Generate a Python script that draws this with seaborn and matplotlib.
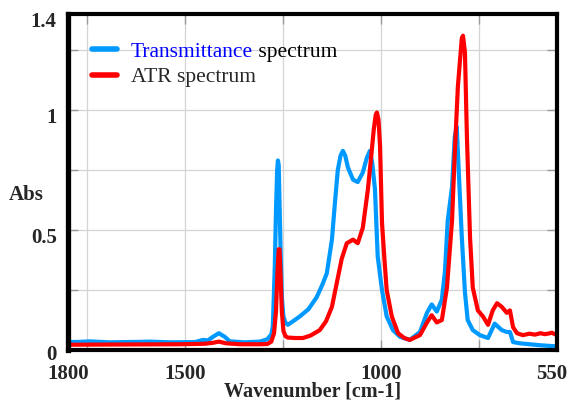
import matplotlib
matplotlib.use("Agg")
from matplotlib import pyplot as plt
from matplotlib import transforms
from matplotlib.ticker import FixedLocator
import seaborn as sns
import pandas as pd

# wavenumber [cm-1] / absorbance
trans_wn = [1800, 1769, 1744, 1693, 1616, 1590, 1539, 1475, 1455, 1442, 1429, 1414,
            1399, 1386, 1348, 1309, 1290, 1280, 1276, 1271, 1268, 1265, 1263, 1261,
            1259, 1256, 1253, 1249, 1244, 1238, 1233, 1220, 1207, 1185, 1164, 1150,
            1138, 1125, 1118, 1110, 1103, 1097, 1091, 1084, 1071, 1059, 1046, 1036,
            1028, 1022, 1015, 1008, 997, 985, 969, 951, 926, 900, 882, 870, 857,
            844, 836, 829, 818, 811, 806, 801, 793, 785, 778, 765, 747, 726, 709,
            691, 678, 670, 662, 645, 594, 550]
trans_abs = [0.033, 0.034, 0.036, 0.032, 0.034, 0.035, 0.032, 0.033, 0.042, 0.040,
             0.055, 0.070, 0.055, 0.036, 0.032, 0.035, 0.045, 0.065, 0.10, 0.35,
             0.58, 0.75, 0.79, 0.77, 0.62, 0.40, 0.22, 0.14, 0.115, 0.105, 0.11,
             0.125, 0.14, 0.17, 0.22, 0.27, 0.32, 0.46, 0.60, 0.75, 0.81, 0.83,
             0.81, 0.76, 0.71, 0.70, 0.74, 0.80, 0.83, 0.78, 0.67, 0.39, 0.25,
             0.14, 0.083, 0.055, 0.042, 0.075, 0.155, 0.19, 0.16, 0.21, 0.33, 0.54,
             0.68, 0.89, 0.93, 0.75, 0.47, 0.24, 0.125, 0.083, 0.062, 0.05, 0.11,
             0.083, 0.075, 0.075, 0.033, 0.028, 0.02, 0.015]

atr_wn = [1800, 1667, 1514, 1450, 1429, 1414, 1396, 1360, 1309, 1290, 1280, 1273,
          1268, 1264, 1261, 1259, 1256, 1253, 1249, 1244, 1238, 1220, 1199, 1180,
          1156, 1140, 1125, 1110, 1100, 1087, 1071, 1059, 1046, 1033, 1025, 1018,
          1013, 1010, 1006, 1002, 997, 990, 985, 972, 956, 940, 926, 900, 882,
          870, 857, 844, 831, 818, 811, 803, 793, 790, 785, 780, 772, 765, 752,
          739, 726, 714, 703, 691, 678, 670, 662, 652, 637, 620, 606, 592, 581,
          570, 563, 550]
atr_abs = [0.022, 0.023, 0.024, 0.026, 0.030, 0.035, 0.028, 0.024, 0.024, 0.025,
           0.035, 0.07, 0.16, 0.33, 0.42, 0.42, 0.30, 0.16, 0.08, 0.058, 0.052,
           0.05, 0.05, 0.06, 0.083, 0.12, 0.18, 0.30, 0.38, 0.445, 0.46, 0.445,
           0.51, 0.67, 0.80, 0.92, 0.98, 0.99, 0.96, 0.85, 0.53, 0.36, 0.25, 0.14,
           0.07, 0.05, 0.042, 0.062, 0.115, 0.145, 0.115, 0.125, 0.26, 0.54, 0.82,
           1.10, 1.30, 1.31, 1.24, 0.89, 0.47, 0.26, 0.165, 0.14, 0.105, 0.165,
           0.195, 0.18, 0.155, 0.165, 0.095, 0.07, 0.062, 0.068, 0.064, 0.070,
           0.066, 0.069, 0.072, 0.062]

x_labels = [1800, 1500, 1000, 550]
x_grid = [1750, 1500, 1250, 1000, 750]
y_labels = [0, 0.5, 1, 1.4]
y_grid = [0.25, 0.5, 0.75, 1.0, 1.25]

sns.set_style("white")
plt.rcParams["font.family"] = ["Liberation Serif", "DejaVu Serif"]

df = pd.concat([
    pd.DataFrame({"wn": trans_wn, "abs": trans_abs, "spec": "Transmittance"}),
    pd.DataFrame({"wn": atr_wn, "abs": atr_abs, "spec": "ATR spectrum"}),
])

fig = plt.figure(figsize=(5.7, 4.03), dpi=100)
ax = fig.add_axes([0.119, 0.1315, 0.858, 0.8335])

sns.lineplot(data=df, x="wn", y="abs", hue="spec", estimator=None,
             palette={"Transmittance": "#0099ff", "ATR spectrum": "#ff0000"},
             linewidth=3, ax=ax)
for line in ax.get_lines():
    line.set_solid_joinstyle("round")

ax.set_xlim(1800, 550)
ax.set_ylim(0, 1.4)

ax.xaxis.remove_overlapping_locs = False
ax.yaxis.remove_overlapping_locs = False
ax.xaxis.set_major_locator(FixedLocator(x_labels))
ax.set_xticklabels([str(v) for v in x_labels])
ax.xaxis.set_minor_locator(FixedLocator(x_grid))
ax.yaxis.set_major_locator(FixedLocator(y_labels))
ax.set_yticklabels(["0", "0.5", "1", "1.4"])
ax.yaxis.set_minor_locator(FixedLocator(y_grid))

ax.tick_params(which="major", length=0, labelsize=15)
ax.tick_params(axis="x", which="major", pad=10)
ax.tick_params(axis="y", which="major", pad=8)
ax.tick_params(which="minor", direction="in", length=7, width=1, color="#999999",
               top=True, right=True, bottom=True, left=True)
for lab in ax.get_xticklabels() + ax.get_yticklabels():
    lab.set_fontweight("bold")
for i, lab in enumerate(ax.get_yticklabels()):
    dy = 2 if i == 0 else 5
    lab.set_transform(lab.get_transform() +
                      transforms.ScaledTranslation(0, -dy / 100, fig.dpi_scale_trans))
last = ax.get_xticklabels()[-1]
last.set_transform(last.get_transform() +
                   transforms.ScaledTranslation(-5 / 100, 0, fig.dpi_scale_trans))

ax.grid(False, which="major")
ax.grid(True, which="minor", color="#d4d4d4", linewidth=0.9)

for sp in ax.spines.values():
    sp.set_color("black")
    sp.set_linewidth(3)
ax.spines["left"].set_linewidth(3.8)

ax.set_xlabel("Wavenumber [cm-1]", fontsize=14.5, fontweight="bold", va="center")
ax.xaxis.set_label_coords(0.5, -0.125)
ax.set_ylabel("Abs", fontsize=15, fontweight="bold", rotation=0, ha="center", va="center")
ax.yaxis.set_label_coords(-0.085, 0.46)

leg = ax.legend(loc="upper left", bbox_to_anchor=(0.01, 0.975), frameon=False,
                fontsize=15.5, handlelength=1.15, handletextpad=0.65, labelspacing=0.25,
                borderaxespad=0.5)
for line in leg.get_lines():
    line.set_linewidth(4)
leg_text = leg.get_texts()[0]
leg_text.set_color("#0000ff")

# append the black " spectrum" right after the blue word
fig.canvas.draw()
bb = leg_text.get_window_extent()
fig.text(bb.x1, bb.y0, " spectrum", transform=None, ha="left", va="bottom",
         fontsize=15.5, color="black")

fig.savefig("out.png", dpi=100)
